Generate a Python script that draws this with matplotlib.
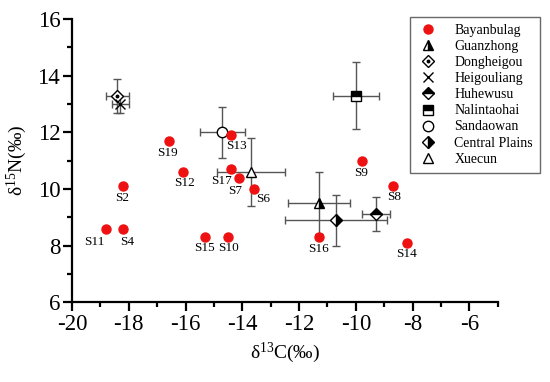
import matplotlib
matplotlib.use("Agg")
import matplotlib.pyplot as plt
from matplotlib.lines import Line2D
from matplotlib.legend_handler import HandlerTuple

plt.rcParams['font.family'] = ['Liberation Serif', 'DejaVu Serif']
plt.rcParams['axes.unicode_minus'] = False
plt.rcParams['mathtext.fontset'] = 'stix'

# Bayanbulag samples
sample_names = ["S19", "S2", "S11", "S4", "S12", "S13", "S17", "S7", "S6",
                "S15", "S10", "S16", "S9", "S8", "S14"]
sample_c = [-16.6, -18.2, -18.8, -18.2, -16.1, -14.4, -14.4, -14.1, -13.6,
            -15.3, -14.5, -11.3, -9.8, -8.7, -8.2]
sample_n = [11.7, 10.1, 8.6, 8.6, 10.6, 11.9, 10.7, 10.4, 10.0,
            8.3, 8.3, 8.3, 11.0, 10.1, 8.1]
label_offsets = [(-1, -12), (-1, -12), (-12, -13), (4, -13), (2, -11), (5, -11),
                 (-9, -12), (-4, -13), (9, -10), (-1, -11), (0, -11), (0, -12),
                 (0, -12), (1, -11), (0, -11)]

# Comparison groups: mean and errors
group_names = ["Guanzhong", "Dongheigou", "Heigouliang", "Huhewusu",
               "Nalintaohai", "Sandaowan", "Central Plains", "Xuecun"]
group_c = [-11.3, -18.4, -18.3, -9.3, -10.0, -14.7, -10.7, -13.7]
group_n = [9.5, 13.3, 13.0, 9.1, 13.3, 12.0, 8.9, 10.6]
group_cerr = [1.1, 0.4, 0.3, 0.5, 0.8, 0.8, 1.8, 1.2]
group_nerr = [1.1, 0.6, 0.3, 0.6, 1.2, 0.9, 0.9, 1.2]

styles = {
    "Guanzhong": dict(marker='^', fillstyle='right', ms=7),
    "Dongheigou": dict(marker='D', fillstyle='none', ms=6),
    "Heigouliang": dict(marker='x', fillstyle='full', ms=7),
    "Huhewusu": dict(marker='D', fillstyle='top', ms=6),
    "Nalintaohai": dict(marker='s', fillstyle='top', ms=7),
    "Sandaowan": dict(marker='o', fillstyle='none', ms=7.5),
    "Central Plains": dict(marker='D', fillstyle='right', ms=6),
    "Xuecun": dict(marker='^', fillstyle='none', ms=7.5),
}

fig = plt.figure(figsize=(5.5, 3.82), dpi=100)
ax = fig.add_axes([0.131, 0.209, 0.774, 0.741])

handles = []
h0 = Line2D([], [], ls='none', marker='o', ms=6.5, color='#ee1111', mec='#ee1111')
ax.plot(sample_c, sample_n, ls='none', marker='o', ms=6.5, color='#ee1111',
        mec='#ee1111', zorder=4)
handles.append(h0)
for name, x, y, off in zip(sample_names, sample_c, sample_n, label_offsets):
    ax.annotate(name, (x, y), xytext=off, textcoords='offset pixels',
                ha='center', va='center', fontsize=9.5, zorder=5)

for name, x, y, xe, ye in zip(group_names, group_c, group_n, group_cerr, group_nerr):
    st = styles[name]
    ax.errorbar([x], [y], xerr=[xe], yerr=[ye], ls='none', ecolor='#555555',
                elinewidth=1, capsize=3, capthick=1, zorder=2)
    kw = dict(ls='none', marker=st['marker'], ms=st['ms'], color='black',
              mec='black', mew=1, fillstyle=st['fillstyle'])
    if st['fillstyle'] not in ('none', 'full'):
        kw['markerfacecoloralt'] = 'white'
    if st['fillstyle'] == 'none':
        kw['fillstyle'] = 'full'
        kw['mfc'] = 'white'
    ax.plot([x], [y], zorder=3, **kw)
    h = Line2D([], [], **kw)
    if name == "Dongheigou":
        ax.plot([x], [y], ls='none', marker='o', ms=1.8, color='black', zorder=3.5)
        hd = Line2D([], [], ls='none', marker='o', ms=1.8, color='black')
        h = (h, hd)
    handles.append(h)

ax.set_xlim(-20, -5)
ax.set_ylim(6, 16)
ax.set_xticks([-20, -18, -16, -14, -12, -10, -8, -6])
ax.set_xticks(range(-19, -4, 2), minor=True)
ax.set_yticks([6, 8, 10, 12, 14, 16])
ax.set_yticks([7, 9, 11, 13, 15], minor=True)
for s in ['top', 'right']:
    ax.spines[s].set_visible(False)
for s in ['left', 'bottom']:
    ax.spines[s].set_linewidth(1.6)
ax.tick_params(which='major', direction='out', length=6.5, width=1.6,
               labelsize=16.5, pad=2)
ax.tick_params(which='minor', direction='out', length=3.5, width=1.6)
ax.set_xlabel(r'$\mathregular{\delta^{13}C(‰)}$', fontsize=14, labelpad=4)
ax.set_ylabel(r'$\mathregular{\delta^{15}N(‰)}$', fontsize=14, labelpad=6)

leg = fig.legend(handles, ["Bayanbulag"] + group_names,
                 loc='upper left', bbox_to_anchor=(0.745, 0.955),
                 frameon=True, fancybox=False, fontsize=10,
                 labelspacing=0.22, handlelength=1.6, handletextpad=1.1,
                 borderpad=0.5, borderaxespad=0,
                 handler_map={tuple: HandlerTuple(ndivide=1, pad=0)})
leg.get_frame().set_edgecolor('#444444')
leg.get_frame().set_linewidth(1)

fig.savefig("out.png", dpi=100)
